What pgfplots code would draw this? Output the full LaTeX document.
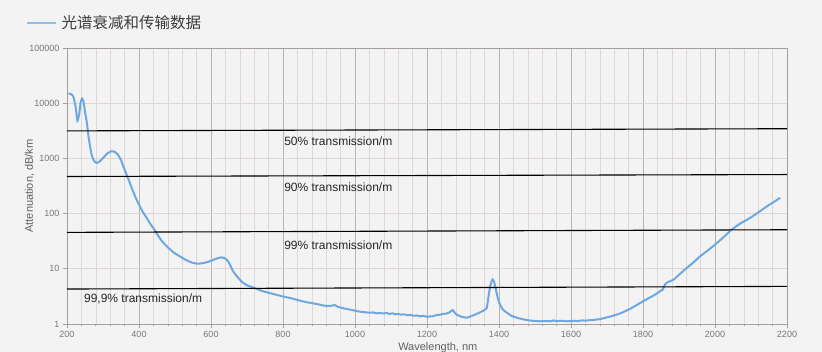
\documentclass[border=0pt]{standalone}
\usepackage{pgfplots}
\pgfplotsset{compat=1.18}
\usepackage{fontspec}
\setmainfont{Liberation Sans}
\newfontfamily\cjk{Noto Sans CJK SC}
\definecolor{bg}{RGB}{243,243,244}
\definecolor{curve}{RGB}{110,168,222}
\definecolor{legline}{RGB}{140,190,238}
\definecolor{gridminor}{RGB}{222,215,214}
\definecolor{gridmajor}{RGB}{186,178,176}
\definecolor{axisgray}{RGB}{165,158,156}
\definecolor{ticktext}{RGB}{120,120,120}
\definecolor{legtext}{RGB}{60,60,60}
\begin{document}
\begin{tikzpicture}
\useasboundingbox (-67pt,-28pt) rectangle (755pt,324pt);
\fill[bg] (-67pt,-28pt) rectangle (755pt,324pt);
\begin{axis}[
  at={(0pt,0pt)}, anchor=south west,
  scale only axis, width=720pt, height=276pt,
  ymode=log, log basis y=10,
  xmin=200, xmax=2200, ymin=1, ymax=100000,
  xtick={200,400,...,2200},
  minor x tick num=4,
  ytick={1,10,100,1000,10000,100000},
  yticklabels={1,10,100,1000,10000,100000},
  xticklabel style={/pgf/number format/1000 sep={}},
  /pgf/number format/assume math mode=true,
  tick label style={font=\fontsize{9}{10}\selectfont, text=ticktext},
  grid=both,
  minor grid style={color=gridminor, line width=0.5pt},
  major grid style={color=gridminor, line width=0.6pt},
  major x grid style={color=gridmajor, line width=0.7pt},
  axis line style={color=axisgray, line width=0.7pt},
  tick style={color=axisgray, line width=0.6pt},
  tick align=outside,
  xtick pos=bottom, ytick pos=left,
  major tick length=4pt, minor tick length=2pt,
  xticklabel shift=0pt,
  xlabel={Wavelength, nm},
  ylabel={Attenuation, dB/km},
  every axis x label/.style={at={(axis description cs:0.515,-0.084)}, anchor=center, font=\fontsize{11}{12}\selectfont, text=ticktext!80!black},
  every axis y label/.style={at={(axis description cs:-0.052,0.5)}, rotate=90, anchor=center, font=\fontsize{11}{12}\selectfont, text=ticktext!80!black},
  legend style={at={(axis description cs:-0.057,1.091)}, anchor=west, draw=none, fill=none, inner sep=0pt, font=\cjk\fontsize{15.5}{17}\selectfont, text=legtext, legend cell align=left, nodes={inner xsep=4pt}},
  legend image code/.code={\draw[legline, line width=2.5pt] (0pt,0pt) -- (29pt,0pt);},
  clip=false,
]
\addplot[curve, line width=2pt, smooth, tension=0.4] coordinates {
(204,15100) (212,14500) (218,13000) (224,8500) (229,4800) (234,6500) (238,10500) (242,12100) (246,10500) (250,7000) (255,4500) (259,2700) (264,1670) (268,1200) (273,960) (278,860) (283,830) (290,870) (301,1030) (312,1230) (324,1350) (334,1300) (343,1130) (350,930) (356,730) (363,560) (370,430) (380,290) (393,180) (407,118) (420,86) (431,66) (443,51) (454,39) (465,31) (477,25.6) (495,20) (514,16.7) (532,14.3) (551,12.7) (565,12.4) (579,12.7) (594,13.5) (606,14.5) (618,15.5) (630,16.1) (640,15.3) (648,13.5) (655,11) (662,8.9) (676,6.8) (690,5.5) (704,4.9) (718,4.57) (740,4.0) (755,3.76) (773,3.5) (801,3.14) (820,2.95) (847,2.65) (870,2.45) (894,2.3) (915,2.15) (930,2.12) (944,2.2) (952,2.05) (967,1.93) (990,1.8) (1014,1.67) (1030,1.63) (1040,1.6) (1050,1.62) (1060,1.56) (1070,1.58) (1079,1.55) (1088,1.59) (1095,1.52) (1104,1.56) (1112,1.5) (1120,1.53) (1128,1.47) (1136,1.5) (1145,1.44) (1155,1.46) (1163,1.41) (1171,1.43) (1180,1.38) (1190,1.40) (1200,1.35) (1208,1.37) (1216,1.38) (1225,1.44) (1235,1.47) (1245,1.52) (1255,1.55) (1262,1.62) (1271,1.78) (1277,1.6) (1282,1.48) (1295,1.36) (1310,1.3) (1330,1.45) (1347,1.62) (1360,1.8) (1366,1.95) (1371,3.2) (1376,5.0) (1382,6.4) (1387,5.6) (1392,4.0) (1398,2.73) (1405,2.1) (1412,1.8) (1425,1.55) (1435,1.4) (1455,1.27) (1477,1.18) (1495,1.14) (1514,1.12) (1530,1.13) (1545,1.12) (1551,1.16) (1560,1.13) (1575,1.14) (1590,1.12) (1606,1.14) (1618,1.13) (1630,1.16) (1642,1.15) (1653,1.18) (1662,1.17) (1670,1.21) (1680,1.22) (1690,1.27) (1710,1.37) (1736,1.55) (1765,1.9) (1792,2.4) (1810,2.8) (1830,3.3) (1847,3.9) (1855,4.2) (1861,5.2) (1870,5.8) (1884,6.3) (1900,7.8) (1921,10.3) (1940,13) (1958,16.7) (1980,21.5) (2000,27.4) (2023,37) (2046,51) (2070,66) (2097,83) (2120,105) (2144,135) (2165,165) (2181,193)
};
\addlegendentry{光谱衰减和传输数据}
\addplot[black, line width=1.1pt, forget plot] coordinates {(200,3150) (2200,3450)};
\addplot[black, line width=1.1pt, forget plot] coordinates {(200,470) (2200,510)};
\addplot[black, line width=1.1pt, forget plot] coordinates {(200,45.7) (2200,51)};
\addplot[black, line width=1.1pt, forget plot] coordinates {(200,4.3) (2200,4.8)};
\node[anchor=west, inner sep=0pt, font=\fontsize{12}{14}\selectfont, text=black!85] at (axis cs:803,2040) {50\% transmission/m};
\node[anchor=west, inner sep=0pt, font=\fontsize{12}{14}\selectfont, text=black!85] at (axis cs:803,297) {90\% transmission/m};
\node[anchor=west, inner sep=0pt, font=\fontsize{12}{14}\selectfont, text=black!85] at (axis cs:803,27) {99\% transmission/m};
\node[anchor=west, inner sep=0pt, font=\fontsize{12}{14}\selectfont, text=black!85] at (axis cs:247,2.85) {99,9\% transmission/m};
\end{axis}
\end{tikzpicture}
\end{document}
